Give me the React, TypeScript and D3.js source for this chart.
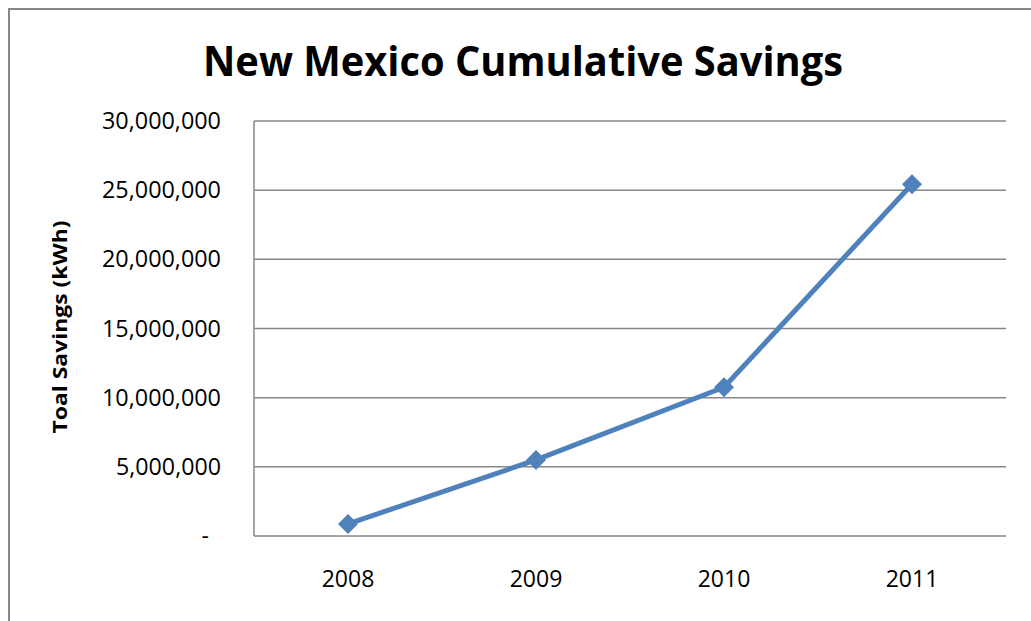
import React from "react";
import * as d3 from "d3";

const categories = ["2008", "2009", "2010", "2011"];
const savings = [870000, 5500000, 10750000, 25430000];
const yTicks = [0, 5000000, 10000000, 15000000, 20000000, 25000000, 30000000];
const title = "New Mexico Cumulative Savings";
const yTitle = "Toal Savings (kWh)";

export default function App() {
  const W = 1031, H = 621;
  const left = 254, right = 1006, top = 121, bottom = 536;
  const x = d3.scaleBand<string>().domain(categories).range([left, right]);
  const y = d3.scaleLinear().domain([0, 30000000]).range([bottom, top]);
  const fmt = (v: number) => (v === 0 ? "-" : d3.format(",")(v));
  const pts: [number, number][] = categories.map((c, i) => [x(c)! + x.bandwidth() / 2, y(savings[i])]);
  const line = d3.line()(pts) || "";
  const font = "'Open Sans', sans-serif";
  const dm = 10;
  return (
    <svg width={W} height={H} style={{ position: "absolute", left: 0, top: 0, background: "#fff" }} fontFamily={font}>
      <rect x={9} y={9} width={W + 10} height={H + 10} fill="#fff" stroke="#878787" strokeWidth={2} />
      <text x={523} y={76} textAnchor="middle" fontSize={41} fontWeight="bold" fill="#000" textLength={640} lengthAdjust="spacingAndGlyphs">{title}</text>
      {yTicks.map((t) => (
        <g key={t}>
          {t > 0 && <line x1={left} x2={right} y1={y(t)} y2={y(t)} stroke="#878787" strokeWidth={1.5} />}
          <text x={t === 0 ? 209 : 221} y={y(t) + 8} textAnchor="end" fontSize={23} fill="#000" textLength={t === 0 ? undefined : t >= 10000000 ? 119 : 105} lengthAdjust="spacingAndGlyphs">{fmt(t)}</text>
        </g>
      ))}
      <line x1={left} x2={left} y1={top} y2={bottom} stroke="#878787" strokeWidth={1.5} />
      <line x1={left} x2={right} y1={bottom} y2={bottom} stroke="#878787" strokeWidth={1.5} />
      {categories.map((c) => (
        <text key={c} x={x(c)! + x.bandwidth() / 2} y={587} textAnchor="middle" fontSize={23} fill="#000">{c}</text>
      ))}
      <text transform={`translate(67,327) rotate(-90)`} textAnchor="middle" fontSize={20} fontWeight="bold" fill="#000" textLength={213} lengthAdjust="spacingAndGlyphs">{yTitle}</text>
      <path d={line} fill="none" stroke="#4F81BD" strokeWidth={5} strokeLinejoin="round" />
      {pts.map(([px, py], i) => (
        <path key={i} d={`M${px},${py - dm}L${px + dm},${py}L${px},${py + dm}L${px - dm},${py}Z`} fill="#4F81BD" />
      ))}
    </svg>
  );
}
